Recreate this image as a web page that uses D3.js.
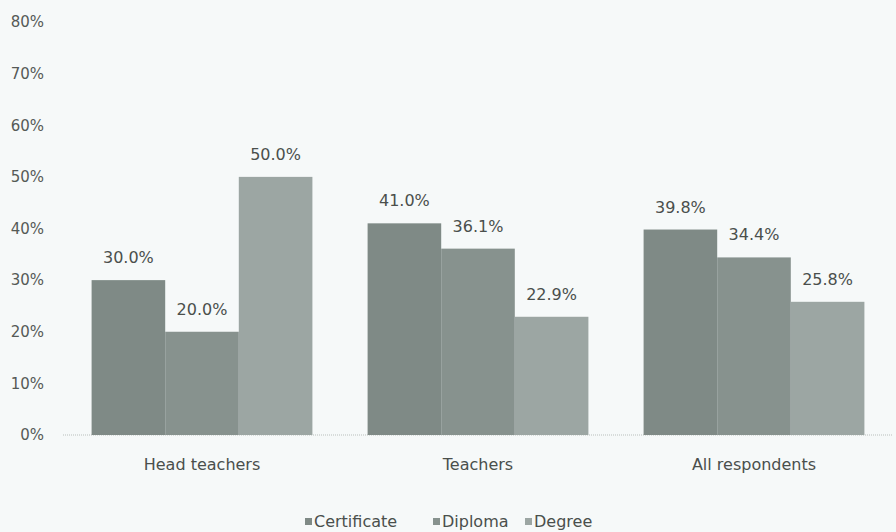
<!DOCTYPE html>
<html>
<head>
<meta charset="utf-8">
<script src="https://cdn.jsdelivr.net/npm/d3@7"></script>
<style>
  body { margin: 0; background: #f6f9f9; }
  svg { display: block; font-family: "DejaVu Sans", sans-serif; }
</style>
</head>
<body>
<svg width="896" height="532"></svg>
<script>
// categories, series and ticks
var groups = ['Head teachers', 'Teachers', 'All respondents'];
var seriesNames = ['Certificate', 'Diploma', 'Degree'];
var certificate = [30.0, 41.0, 39.8];
var diploma = [20.0, 36.1, 34.4];
var degree = [50.0, 22.9, 25.8];
var yTicks = [0, 10, 20, 30, 40, 50, 60, 70, 80];

var colors = ['#7f8a86', '#87928e', '#9ca6a3'];
var seriesValues = [certificate, diploma, degree];
var fontFam = '"DejaVu Sans", sans-serif';

var svg = d3.select('svg');

var x = d3.scaleBand()
  .domain(groups)
  .range([64, 892])
  .paddingInner(0.2)
  .paddingOuter(0.1);

var xInner = d3.scaleBand()
  .domain(seriesNames)
  .range([0, x.bandwidth()]);

var y = d3.scaleLinear()
  .domain([0, 80])
  .range([435, 22]);

// y axis labels
var yAxis = svg.append('g')
  .attr('transform', 'translate(44,0)')
  .call(d3.axisLeft(y).tickValues(yTicks).tickSize(0).tickPadding(0)
    .tickFormat(function (d) { return d + '%'; }));
yAxis.select('.domain').remove();
yAxis.selectAll('text')
  .attr('fill', '#555a57')
  .style('font-size', '15px')
  .style('font-family', fontFam);

// baseline
svg.append('line')
  .attr('x1', 63).attr('x2', 892)
  .attr('y1', y(0)).attr('y2', y(0))
  .attr('stroke', '#b9bfbc')
  .attr('stroke-dasharray', '1,1');

var rows = [];
groups.forEach(function (g, i) {
  seriesNames.forEach(function (s, j) {
    rows.push({ group: g, series: s, value: seriesValues[j][i], color: colors[j] });
  });
});

var bars = svg.selectAll('.bar')
  .data(rows)
  .enter().append('g')
  .attr('class', 'bar');

bars.append('rect')
  .attr('x', function (d) { return x(d.group) + xInner(d.series); })
  .attr('y', function (d) { return y(d.value); })
  .attr('width', xInner.bandwidth())
  .attr('height', function (d) { return y(0) - y(d.value); })
  .style('fill', function (d) { return d.color; });

bars.append('text')
  .attr('x', function (d) { return x(d.group) + xInner(d.series) + xInner.bandwidth() / 2; })
  .attr('y', function (d) { return y(d.value) - 17; })
  .attr('text-anchor', 'middle')
  .attr('fill', '#4a4f4c')
  .style('font-size', '16px')
  .text(function (d) { return d.value.toFixed(1) + '%'; });

// category labels
var xAxis = svg.append('g')
  .attr('transform', 'translate(0,' + y(0) + ')')
  .call(d3.axisBottom(x).tickSize(0).tickPadding(24));
xAxis.select('.domain').remove();
xAxis.selectAll('text')
  .attr('fill', '#4a4f4c')
  .style('font-size', '16px')
  .style('font-family', fontFam);

// legend
var legendX = [305, 433, 525];
var legend = svg.selectAll('.legend')
  .data(seriesNames)
  .enter().append('g')
  .attr('class', 'legend')
  .attr('transform', function (d, i) { return 'translate(' + legendX[i] + ',521)'; });

legend.append('rect')
  .attr('x', 0).attr('y', -3)
  .attr('width', 7).attr('height', 7)
  .style('fill', function (d, i) { return colors[i]; });

legend.append('text')
  .attr('x', 9)
  .attr('dy', '.35em')
  .attr('fill', '#4a4f4c')
  .style('font-size', '16px')
  .text(function (d) { return d; });
</script>
</body>
</html>
